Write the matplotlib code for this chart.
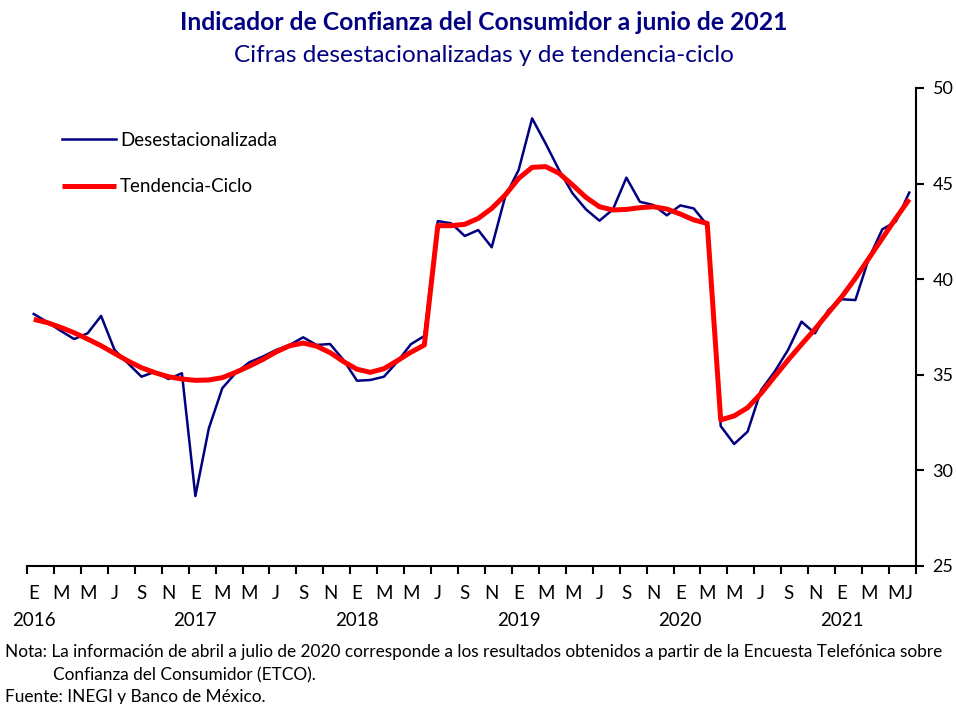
import numpy as np
import matplotlib
matplotlib.use("Agg")
from matplotlib import pyplot as plt
import matplotlib.transforms as mtransforms

plt.rcParams['font.family'] = ['Lato', 'DejaVu Sans']

# datos mensuales ene-2016 a jun-2021
desest = [38.18, 37.76, 37.30, 36.87, 37.17, 38.08, 36.30, 35.60, 34.90, 35.16, 34.78, 35.08,
          28.66, 32.20, 34.30, 35.10, 35.65, 35.95, 36.30, 36.56, 36.96, 36.56, 36.61, 35.77,
          34.69, 34.73, 34.90, 35.69, 36.60, 37.03, 43.04, 42.92, 42.26, 42.57, 41.67, 44.32,
          45.71, 48.41, 47.10, 45.71, 44.49, 43.65, 43.06, 43.65, 45.31, 44.05, 43.88, 43.34,
          43.86, 43.70, 42.83, 32.32, 31.38, 32.03, 34.20, 35.16, 36.30, 37.78, 37.17, 38.39,
          38.95, 38.91, 41.09, 42.61, 43.01, 44.53]
tendencia = [37.90, 37.73, 37.48, 37.20, 36.87, 36.52, 36.12, 35.72, 35.37, 35.11, 34.90, 34.78,
             34.71, 34.73, 34.85, 35.13, 35.45, 35.80, 36.20, 36.52, 36.66, 36.50, 36.16, 35.69,
             35.29, 35.13, 35.32, 35.74, 36.18, 36.56, 42.80, 42.80, 42.87, 43.18, 43.70, 44.40,
             45.27, 45.85, 45.89, 45.54, 44.93, 44.28, 43.79, 43.62, 43.65, 43.74, 43.79, 43.67,
             43.41, 43.10, 42.92, 32.64, 32.85, 33.28, 34.03, 34.90, 35.77, 36.59, 37.39, 38.25,
             39.09, 40.05, 41.09, 42.14, 43.18, 44.18]
meses = ['E', 'M', 'M', 'J', 'S', 'N']
anios = ['2016', '2017', '2018', '2019', '2020', '2021']

azul = '#000080'
x = np.arange(len(desest))

fig = plt.figure(figsize=(9.56, 7.04), dpi=100)
ax = fig.add_axes([27/956, 1-566/704, 889/956, 478/704])

ax.plot(x, desest, color=azul, lw=1.8, label='Desestacionalizada')
ax.plot(x, tendencia, color='#ff0000', lw=3.6, label='Tendencia-Ciclo', solid_capstyle='butt')

ax.set_xlim(-0.5, len(x) - 0.5)
ax.set_ylim(25, 50)

for s in ['top', 'left']:
    ax.spines[s].set_visible(False)
ax.spines['right'].set_linewidth(1.5)
ax.spines['bottom'].set_linewidth(1.5)

ax.yaxis.tick_right()
ax.set_yticks([25, 30, 35, 40, 45, 50])
ax.tick_params(axis='y', direction='out', length=6, width=1.5, labelsize=13, pad=6)

# marcas cada dos meses, etiquetas en el centro de cada mes
ax.set_xticks(np.arange(-0.5, len(x), 2))
ax.set_xticklabels([])
ax.tick_params(axis='x', which='major', direction='out', length=6, width=1.5)
pos = list(range(0, len(x), 2)) + [len(x) - 1]
etiquetas = [meses[(p % 12) // 2] for p in range(0, len(x), 2)] + ['J']
ax.set_xticks(pos, minor=True)
ax.set_xticklabels(etiquetas, minor=True)
ax.tick_params(axis='x', which='minor', length=0, labelsize=13.5, pad=14)

trans = mtransforms.blended_transform_factory(ax.transData, fig.transFigure)
for k, a in enumerate(anios):
    ax.text(k * 12, 1 - 621/704, a, transform=trans, ha='center', va='center', fontsize=13.5)

ax.legend(loc='upper left', bbox_to_anchor=(62/956, 1 - 132/704), bbox_transform=fig.transFigure,
          frameon=False, fontsize=13.5, handlelength=2.9, handletextpad=0.2, labelspacing=1.55,
          borderaxespad=0, borderpad=0)

fig.text(0.506, 1 - 22/704, 'Indicador de Confianza del Consumidor a junio de 2021',
         ha='center', va='center', fontsize=17.8, fontweight='bold', color=azul)
fig.text(0.506, 1 - 56/704, 'Cifras desestacionalizadas y de tendencia-ciclo',
         ha='center', va='center', fontsize=17.6, color=azul)

fig.text(5/956, 1 - 652/704, 'Nota: La información de abril a julio de 2020 corresponde a los resultados '
         'obtenidos a partir de la Encuesta Telefónica sobre', ha='left', va='center', fontsize=12.4)
fig.text(53/956, 1 - 675/704, 'Confianza del Consumidor (ETCO).', ha='left', va='center', fontsize=12.4)
fig.text(5/956, 1 - 697/704, 'Fuente: INEGI y Banco de México.', ha='left', va='center', fontsize=12.4)

fig.savefig('out.png', dpi=100)
